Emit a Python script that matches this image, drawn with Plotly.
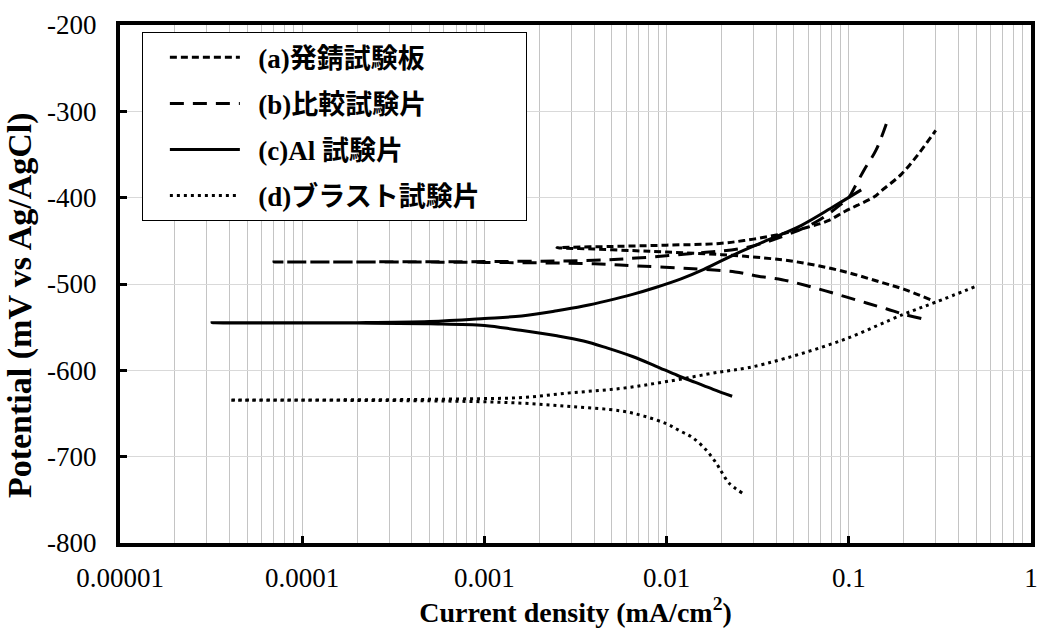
import plotly.graph_objects as go

# ---- data (current density mA/cm2, potential mV) ----
a_x = [0.28, 0.2, 0.15, 0.1, 0.065, 0.043, 0.02, 0.01, 0.0068, 0.004, 0.0025,
       0.005, 0.01, 0.0195, 0.03, 0.045, 0.06, 0.0764, 0.095, 0.111, 0.138, 0.151, 0.194, 0.24, 0.30]
a_y = [-518, -506, -498, -487, -478, -472, -466, -463, -461.5, -459.5, -458,
       -456.5, -455, -453, -448, -441, -434, -427, -416, -409, -399, -392, -373, -350, -322]

b_x = [0.25, 0.2, 0.162, 0.125, 0.0866, 0.059, 0.043, 0.0318, 0.0238, 0.0132, 0.0068, 0.004, 0.001, 0.0003, 0.00007,
       0.001, 0.004, 0.0068, 0.015, 0.027, 0.05, 0.07, 0.09, 0.1, 0.107, 0.122, 0.141, 0.164]
b_y = [-540, -535, -529, -522, -512, -502, -495, -491, -486, -482, -479, -476.5, -475, -474.5, -474.5,
       -474, -472.5, -470, -464, -458, -440, -425, -408, -400, -389, -367, -345, -309]

c_x = [0.0229, 0.018, 0.0144, 0.0115, 0.0087, 0.0065, 0.0047, 0.0035, 0.0025, 0.0015, 0.001, 0.0005, 0.0002, 0.000032,
       0.0002, 0.0005, 0.001, 0.0016, 0.0025, 0.0035, 0.0047, 0.0065, 0.0087, 0.012, 0.016, 0.024, 0.036, 0.055, 0.083, 0.117]
c_y = [-630, -622, -614, -606, -595, -584, -574, -566, -560, -553, -548, -546, -545.3, -545,
       -544.8, -543.5, -540, -537, -531, -525.5, -519.5, -512, -504, -494, -483, -465, -449, -432, -410, -391]

d_x = [0.026, 0.0221, 0.0202, 0.0188, 0.0166, 0.0139, 0.0118, 0.01, 0.0075, 0.0056, 0.003, 0.0016, 0.0008, 0.0003, 0.00004,
       0.0003, 0.0008, 0.0016, 0.003, 0.0056, 0.01, 0.0195, 0.028, 0.045, 0.095, 0.2, 0.3, 0.495]
d_y = [-742, -731, -719, -708, -693, -678, -670, -662, -653, -647, -642, -638, -636, -635, -634.5,
       -634, -633, -631.5, -626, -621, -613, -602, -597, -586, -564, -535, -521, -503]

names = ["(a)発錆試験板", "(b)比較試験片", "(c)Al 試験片", "(d)ブラスト試験片"]

x_major = [1e-5, 1e-4, 1e-3, 1e-2, 1e-1, 1]
x_major_text = ["0.00001", "0.0001", "0.001", "0.01", "0.1", "1"]
y_ticks = [-800, -700, -600, -500, -400, -300, -200]
y_ticks_text = ["-800", "-700", "-600", "-500", "-400", "-300", "-200"]

FONT = "Times New Roman, Liberation Serif, Noto Sans CJK JP, serif"

series = [(a_x, a_y, "7px,4px"), (b_x, b_y, "14px,9px"), (c_x, c_y, "solid"), (d_x, d_y, "3px,4px")]

fig = go.Figure()
for i, ((xs, ys, dash), nm) in enumerate(zip(series, names)):
    fig.add_trace(go.Scatter(
        x=xs, y=ys, mode="lines", name="&nbsp;&nbsp;<b>" + nm + "</b>&nbsp;&nbsp;&nbsp;&nbsp;&nbsp;&nbsp;",
        line=dict(color="black", width=3, dash=dash, shape="spline", smoothing=1),
        legendgroup=str(i),
    ))

minor_vals = [m * 10 ** e for e in range(-5, 0) for m in range(2, 10)]

fig.update_layout(
    width=1048, height=638,
    margin=dict(l=120, r=10, t=16, b=95),
    paper_bgcolor="white", plot_bgcolor="white",
    font=dict(family=FONT, color="black", size=27),
    showlegend=True,
    legend=dict(
        x=0.024, y=0.986, xanchor="left", yanchor="top",
        bgcolor="white", bordercolor="black", borderwidth=1,
        font=dict(family=FONT, size=27, color="black"),
        itemwidth=70, tracegroupgap=8, indentation=22,
    ),
    xaxis=dict(
        type="log", range=[-5, 0],
        tickvals=x_major, ticktext=x_major_text,
        ticks="inside", ticklen=7, tickwidth=3, tickcolor="black",
        showline=True, linewidth=4, linecolor="black", mirror=True,
        showgrid=True, gridcolor="#c4c4c4", gridwidth=1.3,
        minor=dict(tickvals=minor_vals, showgrid=True, gridcolor="#c4c4c4", gridwidth=1.3, ticks=""),
        tickfont=dict(family=FONT, size=27),
        ticklabelstandoff=8,
        title=dict(text="<b>Current density (mA/cm<sup>2</sup>)</b>", font=dict(family=FONT, size=28), standoff=3),
        zeroline=False,
    ),
    yaxis=dict(
        range=[-800, -200],
        tickvals=y_ticks, ticktext=y_ticks_text,
        ticks="inside", ticklen=7, tickwidth=3, tickcolor="black",
        showline=True, linewidth=4, linecolor="black", mirror=True,
        showgrid=True, gridcolor="#d9d9d9", gridwidth=1.3,
        tickfont=dict(family=FONT, size=27),
        ticklabelstandoff=14,
        title=dict(text="<b>Potential (mV vs Ag/AgCl)</b>" + "&nbsp;" * 5,
                   font=dict(family=FONT, size=34), standoff=6),
        zeroline=False,
    ),
)

fig.write_html("out.html")
